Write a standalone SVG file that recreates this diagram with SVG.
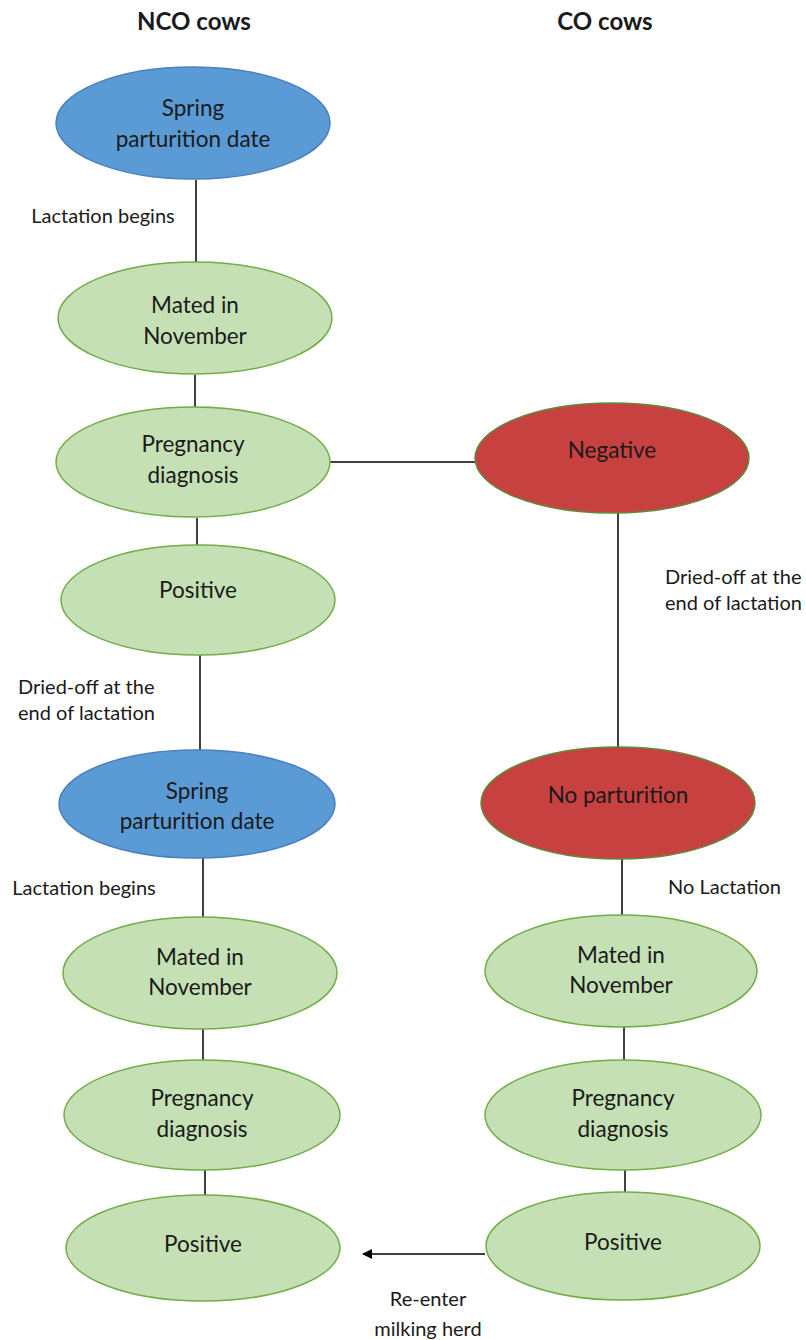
<svg xmlns="http://www.w3.org/2000/svg" width="806" height="1340" viewBox="0 0 806 1340">
<style>
text{font-family:Lato,"Liberation Sans",sans-serif;fill:#1a1a1a;text-anchor:middle}
.n{font-size:22.5px}
.l{font-size:20px}
.h{font-size:24px;font-weight:bold}
.s{text-anchor:start}
.blue{fill:#5B9BD5;stroke:#4A80BC;stroke-width:1.5}
.green{fill:#C5E0B4;stroke:#70AD47;stroke-width:1.5}
.red{fill:#C84141;stroke:#5E8A3A;stroke-width:1.5}
.c line{stroke:#000;stroke-width:1.5}
</style>
<defs>
<marker id="ah" viewBox="0 0 10 10" refX="9" refY="5" markerWidth="11" markerHeight="10" orient="auto" markerUnits="userSpaceOnUse">
<path d="M0,0 L10,5 L0,10 z" fill="#000"/>
</marker>
</defs>
<rect width="806" height="1340" fill="#fff"/>
<g id="titles">
<text class="h" x="194" y="30">NCO cows</text>
<text class="h" x="605" y="30">CO cows</text>
</g>
<g class="c" id="connectors">
<line x1="196" y1="180" x2="196" y2="262"/>
<line x1="195" y1="375" x2="195" y2="407"/>
<line x1="197" y1="518" x2="197" y2="545"/>
<line x1="330" y1="462" x2="476" y2="462"/>
<line x1="618" y1="513" x2="618" y2="748"/>
<line x1="200" y1="655" x2="200" y2="750"/>
<line x1="203" y1="858" x2="203" y2="917"/>
<line x1="622" y1="859" x2="622" y2="915"/>
<line x1="203" y1="1029" x2="203" y2="1060"/>
<line x1="624" y1="1027" x2="624" y2="1060"/>
<line x1="205" y1="1170" x2="205" y2="1195"/>
<line x1="625" y1="1170" x2="625" y2="1193"/>
<line x1="485" y1="1254" x2="363" y2="1254" marker-end="url(#ah)"/>
<text class="l" x="103" y="223">Lactation begins</text>
<text class="l s" x="18" y="694">Dried-off at the</text>
<text class="l s" x="18" y="720">end of lactation</text>
<text class="l s" x="665" y="584">Dried-off at the</text>
<text class="l s" x="665" y="610">end of lactation</text>
<text class="l" x="84" y="895">Lactation begins</text>
<text class="l s" x="668" y="894">No Lactation</text>
<text class="l" x="428" y="1306">Re-enter</text>
<text class="l" x="428" y="1336">milking herd</text>
</g>
<g id="nco1"><ellipse class="blue" cx="193" cy="123" rx="137" ry="56"/><text class="n" x="193" y="116">Spring</text><text class="n" x="193" y="147">parturition date</text></g>
<g id="nco2"><ellipse class="green" cx="195" cy="318" rx="137" ry="56"/><text class="n" x="195" y="313">Mated in</text><text class="n" x="195" y="344">November</text></g>
<g id="nco3"><ellipse class="green" cx="193" cy="462" rx="137" ry="55"/><text class="n" x="193" y="452">Pregnancy</text><text class="n" x="193" y="483">diagnosis</text></g>
<g id="nco4"><ellipse class="green" cx="198" cy="600" rx="137" ry="55"/><text class="n" x="198" y="598">Positive</text></g>
<g id="nco5"><ellipse class="blue" cx="197" cy="804" rx="138" ry="54"/><text class="n" x="197" y="799">Spring</text><text class="n" x="197" y="829">parturition date</text></g>
<g id="nco6"><ellipse class="green" cx="200" cy="973" rx="137" ry="56"/><text class="n" x="200" y="965">Mated in</text><text class="n" x="200" y="995">November</text></g>
<g id="nco7"><ellipse class="green" cx="202" cy="1115" rx="138" ry="55"/><text class="n" x="202" y="1106">Pregnancy</text><text class="n" x="202" y="1137">diagnosis</text></g>
<g id="nco8"><ellipse class="green" cx="203" cy="1248" rx="137" ry="53"/><text class="n" x="203" y="1252">Positive</text></g>
<g id="co1"><ellipse class="red" cx="612" cy="458" rx="137" ry="55"/><text class="n" x="612" y="458">Negative</text></g>
<g id="co2"><ellipse class="red" cx="618" cy="803" rx="137" ry="56"/><text class="n" x="618" y="803">No parturition</text></g>
<g id="co3"><ellipse class="green" cx="621" cy="971" rx="136" ry="56"/><text class="n" x="621" y="963">Mated in</text><text class="n" x="621" y="993">November</text></g>
<g id="co4"><ellipse class="green" cx="623" cy="1115" rx="138" ry="55"/><text class="n" x="623" y="1106">Pregnancy</text><text class="n" x="623" y="1137">diagnosis</text></g>
<g id="co5"><ellipse class="green" cx="623" cy="1246" rx="137" ry="54"/><text class="n" x="623" y="1250">Positive</text></g>
</svg>
